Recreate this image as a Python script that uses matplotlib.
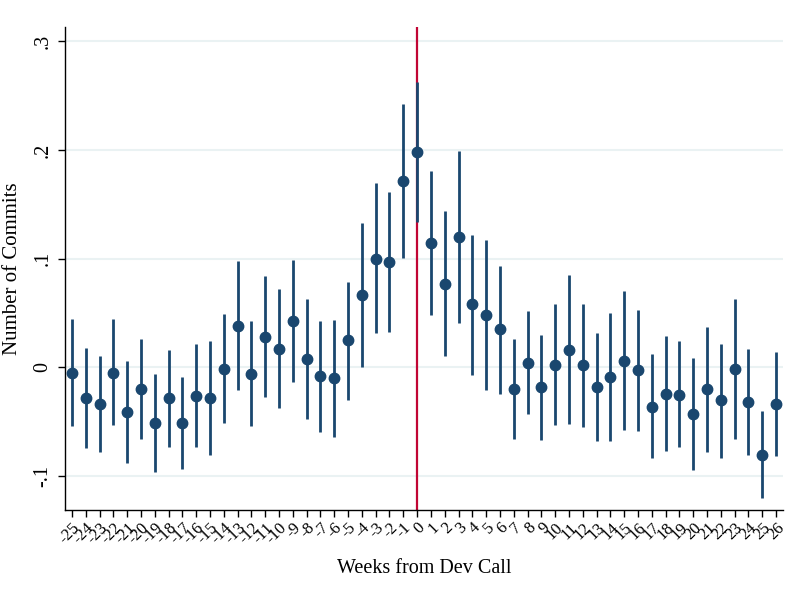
import matplotlib
matplotlib.use("Agg")
import matplotlib.pyplot as plt

# weeks relative to dev call, point estimates and 95% CI bounds
weeks = list(range(-25, 27))
coef = [-0.005, -0.028, -0.034, -0.005, -0.041, -0.020, -0.051, -0.028, -0.051, -0.026,
        -0.028, -0.001, 0.038, -0.006, 0.028, 0.017, 0.043, 0.008, -0.008, -0.010,
        0.025, 0.067, 0.100, 0.097, 0.171, 0.198, 0.114, 0.077, 0.120, 0.058,
        0.048, 0.035, -0.020, 0.004, -0.018, 0.002, 0.016, 0.002, -0.018, -0.009,
        0.006, -0.002, -0.036, -0.024, -0.025, -0.043, -0.020, -0.030, -0.001, -0.032,
        -0.080, -0.034]
ci_hi = [0.045, 0.018, 0.011, 0.045, 0.006, 0.026, -0.006, 0.016, -0.009, 0.022,
         0.024, 0.049, 0.098, 0.043, 0.084, 0.072, 0.099, 0.063, 0.043, 0.044,
         0.079, 0.133, 0.170, 0.161, 0.242, 0.262, 0.181, 0.144, 0.199, 0.122,
         0.117, 0.093, 0.026, 0.052, 0.030, 0.058, 0.085, 0.058, 0.032, 0.050,
         0.070, 0.053, 0.012, 0.029, 0.024, 0.009, 0.037, 0.022, 0.063, 0.017,
         -0.040, 0.014]
ci_lo = [-0.054, -0.074, -0.078, -0.053, -0.088, -0.066, -0.096, -0.073, -0.093, -0.073,
         -0.080, -0.051, -0.021, -0.054, -0.027, -0.037, -0.013, -0.047, -0.059, -0.064,
         -0.030, 0.000, 0.032, 0.033, 0.101, 0.134, 0.048, 0.011, 0.041, -0.007,
         -0.021, -0.024, -0.066, -0.043, -0.067, -0.053, -0.052, -0.055, -0.068, -0.068,
         -0.057, -0.058, -0.083, -0.077, -0.073, -0.094, -0.078, -0.083, -0.066, -0.080,
         -0.120, -0.081]
yticks = [-0.1, 0, 0.1, 0.2, 0.3]
ytick_labels = ["-.1", "0", ".1", ".2", ".3"]

navy = "#1a476f"

plt.rcParams["font.family"] = ["Liberation Serif", "DejaVu Serif"]

fig = plt.figure(figsize=(7.88, 5.98), dpi=100)
ax = fig.add_axes([65/788, 1 - 510/598, 718/788, 483/598])

ax.axvline(0, color="#c10534", lw=1.6, zorder=1)
ax.vlines(weeks, ci_lo, ci_hi, color=navy, lw=2, zorder=2)
ax.plot(weeks, coef, "o", color=navy, ms=7.5, zorder=3)

ax.set_xlim(-25.5, 26.5)
ax.set_ylim(-0.131, 0.313)
ax.set_yticks(yticks)
ax.set_yticklabels(ytick_labels, rotation=90, va="center", fontsize=14.5)
ax.set_xticks(weeks)
ax.set_xticklabels([str(w) for w in weeks], rotation=45, ha="right",
                   rotation_mode="anchor", fontsize=12)
ax.tick_params(axis="x", length=5, width=1, pad=2)
ax.tick_params(axis="y", length=5, width=1, pad=4)
ax.grid(axis="y", color="#eaf2f3", lw=1.5, zorder=0)
ax.set_axisbelow(True)
for s in ["top", "right"]:
    ax.spines[s].set_visible(False)
for s in ["left", "bottom"]:
    ax.spines[s].set_linewidth(1)

ax.set_ylabel("Number of Commits", fontsize=15, labelpad=8)
ax.set_xlabel("Weeks from Dev Call", fontsize=14.5, labelpad=9)

fig.savefig("out.png", dpi=100)
